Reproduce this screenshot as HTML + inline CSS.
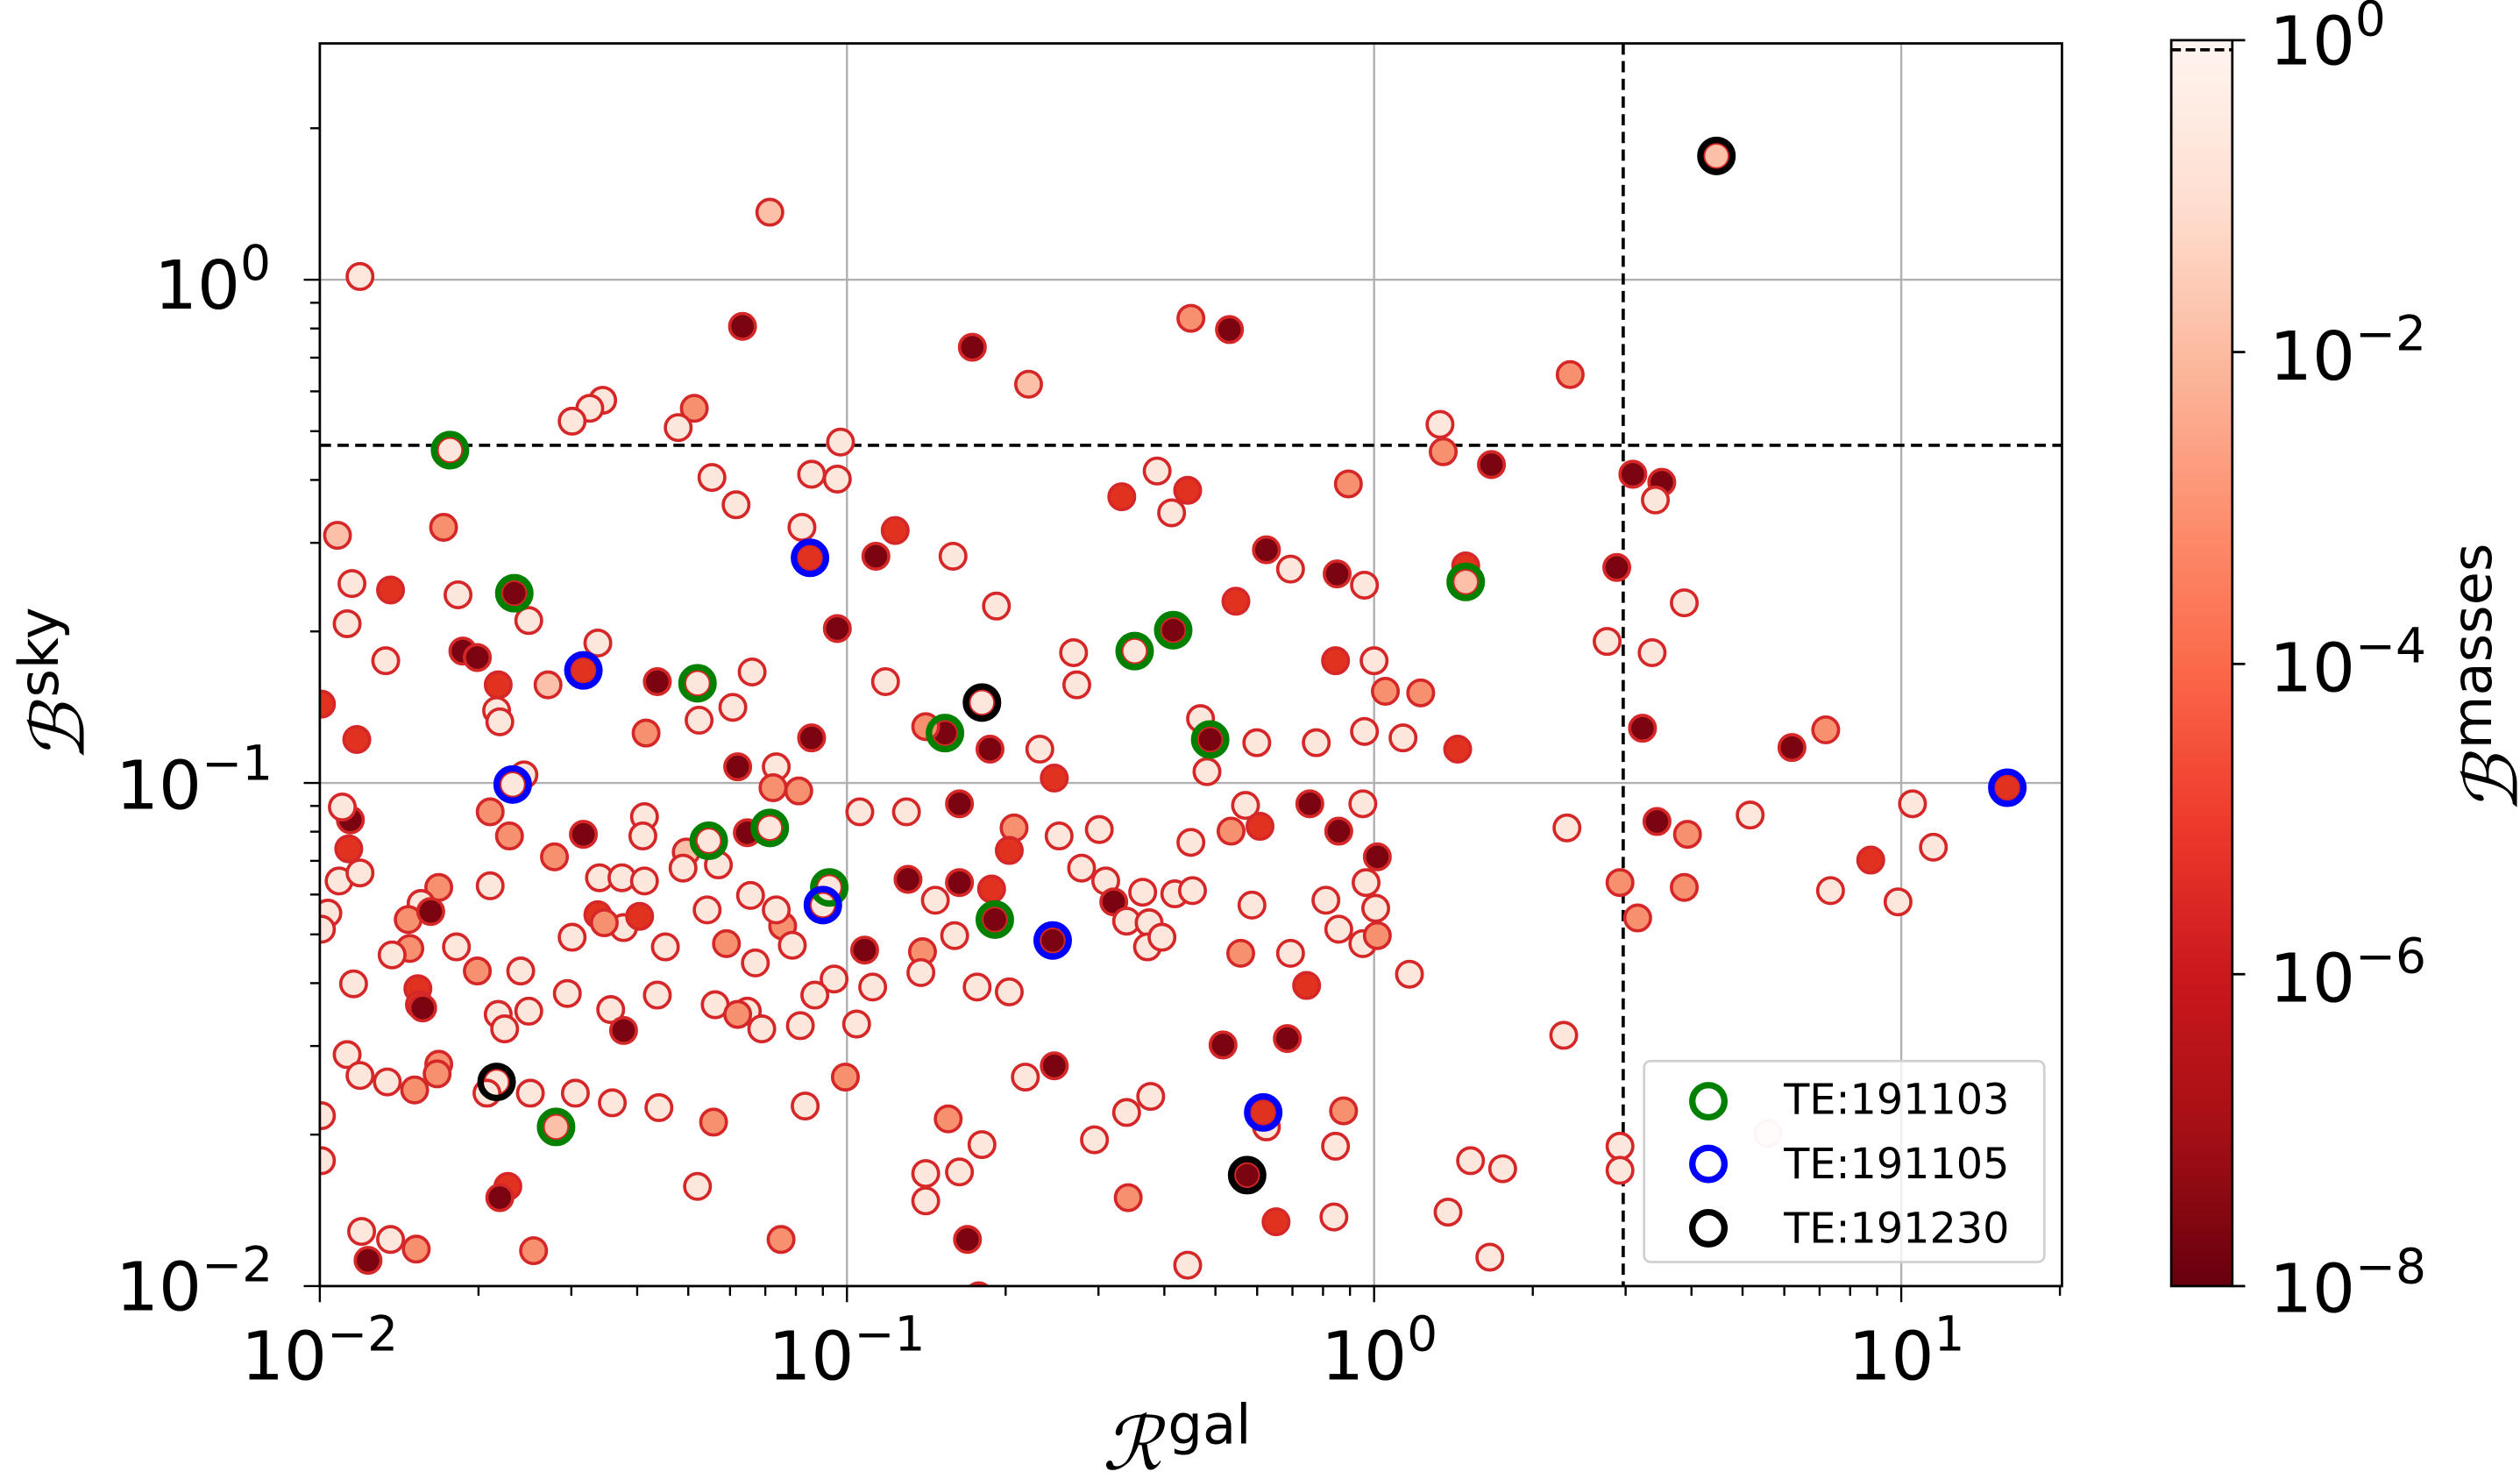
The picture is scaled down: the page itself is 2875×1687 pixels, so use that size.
<!DOCTYPE html>
<html><head><meta charset="utf-8"><style>html,body{margin:0;padding:0;background:#fff}svg{display:block}</style></head>
<body>
<svg id="s" xmlns="http://www.w3.org/2000/svg" width="2875" height="1687" viewBox="0 0 1568 920" preserveAspectRatio="none" font-family="DejaVu Sans, Liberation Sans, sans-serif">
<defs>
<linearGradient id="cb" x1="0" y1="0" x2="0" y2="1">
<stop offset="0" stop-color="#fff5f0"/><stop offset="0.125" stop-color="#fee0d2"/><stop offset="0.25" stop-color="#fcbba1"/><stop offset="0.375" stop-color="#fc9272"/><stop offset="0.5" stop-color="#fb6a4a"/><stop offset="0.625" stop-color="#ef3b2c"/><stop offset="0.75" stop-color="#cb181d"/><stop offset="0.875" stop-color="#a50f15"/><stop offset="1" stop-color="#67000d"/>
</linearGradient>
<clipPath id="ax"><rect x="199" y="27" width="1084" height="773"/></clipPath>
</defs>
<g id="grid" stroke="#b0b0b0" stroke-width="1.3"></g>
<g clip-path="url(#ax)">
<line x1="199" y1="277" x2="1283" y2="277" stroke="#000" stroke-width="2" stroke-dasharray="7,4"/>
<line x1="1010" y1="27" x2="1010" y2="800" stroke="#000" stroke-width="2" stroke-dasharray="7,4"/>
<g id="pts"></g>
</g>
<rect x="199" y="27" width="1084" height="773" fill="none" stroke="#000" stroke-width="1.5"/>
<g id="ticks" stroke="#000" stroke-width="1.3"></g>
<g font-size="42" fill="#000">
<text x="150" y="858">10<tspan dy="-18" font-size="30">−2</tspan></text>
<text x="478" y="858">10<tspan dy="-18" font-size="30">−1</tspan></text>
<text x="822" y="858">10<tspan dy="-18" font-size="30">0</tspan></text>
<text x="1150" y="858">10<tspan dy="-18" font-size="30">1</tspan></text>
<text x="72" y="815">10<tspan dy="-18" font-size="30">−2</tspan></text>
<text x="72" y="503">10<tspan dy="-18" font-size="30">−1</tspan></text>
<text x="96" y="192">10<tspan dy="-18" font-size="30">0</tspan></text>
</g>
<text x="686" y="914" font-size="46" font-family="Liberation Serif, serif" font-style="italic">ℛ<tspan font-family="DejaVu Sans, sans-serif" font-style="normal" font-size="34" dy="-16" dx="4">gal</tspan></text>
<text transform="translate(52,474) rotate(-90)" font-size="46" font-family="Liberation Serif, serif" font-style="italic">ℬ<tspan font-family="DejaVu Sans, sans-serif" font-style="normal" font-size="34" dy="-16" dx="4">sky</tspan></text>
<rect x="1023" y="660" width="249" height="125" rx="4" fill="#fff" fill-opacity="0.8" stroke="#d0d0d0" stroke-width="1.5"/>
<circle cx="1063" cy="685" r="10" fill="none" stroke="#008000" stroke-width="4"/>
<circle cx="1063" cy="724" r="10" fill="none" stroke="#0000ff" stroke-width="4"/>
<circle cx="1063" cy="764" r="10" fill="none" stroke="#000" stroke-width="4"/>
<g font-size="26" fill="#000"><text x="1110" y="693">TE:191103</text><text x="1110" y="733">TE:191105</text><text x="1110" y="773">TE:191230</text></g>
<rect x="1351" y="25" width="38" height="775" fill="url(#cb)" stroke="#000" stroke-width="1.5"/>
<line x1="1351" y1="31" x2="1389" y2="31" stroke="#000" stroke-width="2" stroke-dasharray="6,3"/>
<g stroke="#000" stroke-width="1.5"><line x1="1389" y1="25" x2="1397" y2="25"/><line x1="1389" y1="219" x2="1397" y2="219"/><line x1="1389" y1="413" x2="1397" y2="413"/><line x1="1389" y1="606" x2="1397" y2="606"/><line x1="1389" y1="800" x2="1397" y2="800"/></g>
<g font-size="42" fill="#000">
<text x="1412" y="40">10<tspan dy="-18" font-size="30">0</tspan></text>
<text x="1412" y="236">10<tspan dy="-18" font-size="30">−2</tspan></text>
<text x="1412" y="430">10<tspan dy="-18" font-size="30">−4</tspan></text>
<text x="1412" y="623">10<tspan dy="-18" font-size="30">−6</tspan></text>
<text x="1412" y="816">10<tspan dy="-18" font-size="30">−8</tspan></text>
</g>
<text transform="translate(1566,506) rotate(-90)" font-size="46" font-family="Liberation Serif, serif" font-style="italic">ℬ<tspan font-family="DejaVu Sans, sans-serif" font-style="normal" font-size="34" dy="-16" dx="4">masses</tspan></text>
</svg>
<script>
var NS="http://www.w3.org/2000/svg";
function el(p,t,a){var e=document.createElementNS(NS,t);for(var k in a)e.setAttribute(k,a[k]);p.appendChild(e);return e;}
var g=document.getElementById('grid'),tk=document.getElementById('ticks');
var X0=199,XD=328,Y0=800,YD=313;
[0,1,2,3].forEach(function(i){var x=X0+i*XD;el(g,'line',{x1:x,y1:27,x2:x,y2:800});el(tk,'line',{x1:x,y1:800,x2:x,y2:810});});
[0,1,2].forEach(function(i){var y=Y0-i*YD;el(g,'line',{x1:199,y1:y,x2:1283,y2:y});el(tk,'line',{x1:189,y1:y,x2:199,y2:y});});
for(var d=0;d<4;d++)for(var m=2;m<10;m++){var x=X0+(d+Math.log10(m))*XD;if(x<1283)el(tk,'line',{x1:x,y1:800,x2:x,y2:806});}
for(var d=0;d<3;d++)for(var m=2;m<10;m++){var y=Y0-(d+Math.log10(m))*YD;if(y>27)el(tk,'line',{x1:193,y1:y,x2:199,y2:y});}
var C={d:'#7a0510',r:'#e0321f',s:'#f6906f',p:'#fcc0a8',o:'#fde6dc'};
var R={g:'#008000',b:'#0000ff',k:'#000'};
var P=[[1068,97,'p','k'],[479,132,'p'],[224,172,'o'],[462,203,'d'],[741,198,'s'],[605,216,'d'],[765,205,'d'],[640,239,'p'],[977,233,'s'],[375,249,'o'],[367,254,'o'],[356,262,'o'],[432,254,'s'],[422,266,'o'],[523,275,'o'],[896,264,'o'],[898,281,'s'],[928,289,'d'],[280,280,'o','g'],[505,295,'o'],[521,298,'o'],[443,297,'o'],[458,314,'o'],[720,293,'o'],[739,305,'r'],[698,309,'r'],[729,319,'o'],[1016,295,'d'],[1034,300,'d'],[1030,311,'o'],[839,301,'s'],[557,330,'r'],[499,328,'o'],[276,328,'s'],[210,333,'p'],[593,346,'o'],[545,346,'d'],[788,342,'d'],[803,354,'o'],[832,357,'d'],[504,347,'r','b'],[219,363,'o'],[243,367,'r'],[285,370,'o'],[320,369,'d','g'],[849,364,'o'],[912,352,'r'],[912,362,'p','g'],[769,374,'r'],[1006,353,'d'],[620,377,'o'],[216,388,'o'],[329,386,'o'],[1048,375,'o'],[288,405,'d'],[297,409,'d'],[372,400,'o'],[240,411,'o'],[363,417,'r','b'],[1028,406,'o'],[1000,399,'o'],[706,405,'o','g'],[730,392,'d','g'],[668,406,'o'],[521,391,'d'],[831,411,'r'],[855,411,'o'],[409,424,'d'],[434,425,'o','g'],[310,426,'r'],[341,426,'p'],[456,440,'o'],[551,424,'o'],[468,418,'o'],[670,426,'o'],[862,430,'s'],[884,431,'s'],[611,437,'o','k'],[309,442,'o'],[311,449,'o'],[402,456,'s'],[435,448,'o'],[505,459,'d'],[588,456,'d','g'],[576,452,'s'],[616,466,'d'],[647,466,'o'],[747,447,'o'],[753,460,'d','g'],[782,462,'o'],[819,462,'o'],[849,455,'o'],[873,459,'o'],[907,466,'r'],[1022,453,'d'],[222,460,'r'],[459,477,'d'],[483,477,'o'],[326,482,'o'],[481,490,'s'],[497,492,'s'],[319,488,'o','b'],[597,500,'d'],[656,484,'r'],[751,480,'o'],[775,501,'o'],[815,500,'d'],[848,500,'o'],[1115,465,'d'],[1136,454,'s'],[1249,490,'r','b'],[1190,500,'o'],[1031,511,'d'],[1050,519,'s'],[1089,507,'o'],[1203,527,'o'],[1164,535,'r'],[218,510,'d'],[305,505,'s'],[317,520,'s'],[363,519,'d'],[401,508,'o'],[400,520,'o'],[441,523,'o','g'],[465,518,'d'],[479,515,'o','g'],[535,505,'o'],[564,505,'o'],[631,515,'s'],[628,529,'r'],[659,520,'o'],[684,516,'o'],[741,524,'o'],[766,517,'s'],[784,514,'r'],[833,517,'d'],[857,533,'d'],[975,515,'o'],[217,528,'r'],[345,533,'s'],[373,546,'o'],[427,530,'p'],[447,538,'o'],[211,548,'o'],[224,543,'o'],[273,552,'s'],[262,562,'o'],[305,551,'o'],[387,546,'o'],[425,540,'o'],[401,548,'o'],[467,557,'o'],[516,552,'o','g'],[512,563,'o','b'],[565,547,'d'],[597,549,'d'],[617,553,'r'],[619,572,'d','g'],[582,560,'o'],[673,540,'o'],[688,548,'o'],[693,561,'d'],[711,555,'o'],[731,556,'o'],[742,554,'o'],[779,563,'o'],[825,560,'o'],[850,549,'o'],[856,565,'o'],[1008,549,'s'],[1019,571,'s'],[1048,552,'s'],[1139,554,'o'],[1181,561,'o'],[204,568,'o'],[200,578,'o'],[254,572,'s'],[268,567,'d'],[372,569,'r'],[356,583,'o'],[388,577,'o'],[376,574,'s'],[398,570,'r'],[414,589,'o'],[440,566,'o'],[452,587,'s'],[487,576,'s'],[483,566,'o'],[493,588,'o'],[538,591,'d'],[594,582,'o'],[574,592,'s'],[655,585,'d','b'],[701,573,'o'],[715,574,'o'],[714,589,'o'],[723,583,'o'],[772,593,'s'],[803,593,'o'],[833,578,'o'],[848,587,'o'],[857,582,'s'],[255,590,'s'],[220,612,'o'],[244,594,'o'],[284,589,'o'],[297,604,'s'],[324,604,'o'],[470,599,'o'],[519,609,'o'],[507,619,'o'],[543,614,'o'],[573,605,'o'],[608,614,'o'],[628,617,'o'],[813,613,'r'],[877,606,'o'],[260,615,'r'],[261,625,'r'],[353,618,'o'],[380,628,'o'],[409,619,'o'],[445,625,'o'],[465,629,'o'],[474,640,'o'],[498,638,'o'],[388,641,'d'],[263,627,'d'],[310,631,'o'],[314,640,'o'],[329,629,'o'],[459,631,'s'],[533,637,'o'],[761,650,'d'],[801,646,'d'],[973,644,'o'],[216,656,'o'],[273,662,'s'],[272,668,'s'],[224,669,'o'],[241,673,'o'],[258,678,'s'],[309,673,'o','k'],[303,680,'o'],[330,680,'o'],[358,680,'o'],[381,686,'o'],[410,689,'o'],[501,688,'o'],[526,670,'s'],[638,670,'o'],[656,663,'d'],[200,694,'o'],[346,701,'p','g'],[444,698,'s'],[590,696,'s'],[611,712,'o'],[681,709,'o'],[701,692,'o'],[716,682,'o'],[788,701,'o'],[786,692,'r','b'],[836,691,'s'],[831,713,'o'],[1008,713,'o'],[1008,728,'o'],[200,722,'o'],[316,738,'r'],[311,745,'d'],[434,738,'o'],[576,730,'o'],[576,747,'o'],[597,729,'o'],[702,745,'s'],[776,731,'d','k'],[794,760,'r'],[830,757,'o'],[901,754,'o'],[915,722,'o'],[935,727,'o'],[225,766,'o'],[243,771,'o'],[259,777,'s'],[332,778,'s'],[486,771,'s'],[602,771,'d'],[229,784,'d'],[739,787,'o'],[927,782,'o'],[609,806,'r'],[200,438,'r'],[213,502,'o']];
var pg=document.getElementById('pts');
P.forEach(function(p){el(pg,'circle',{cx:p[0],cy:p[1],r:8,fill:C[p[2]],stroke:'#d62728','stroke-width':2});});
P.forEach(function(p){if(p[3])el(pg,'circle',{cx:p[0],cy:p[1],r:10,fill:'none',stroke:R[p[3]],'stroke-width':4});});
[[1100,705]].forEach(function(p){el(pg,'circle',{cx:p[0],cy:p[1],r:8,fill:'#fdeee9',stroke:'#f5cfcf','stroke-width':2});});
</script>
</body></html>
